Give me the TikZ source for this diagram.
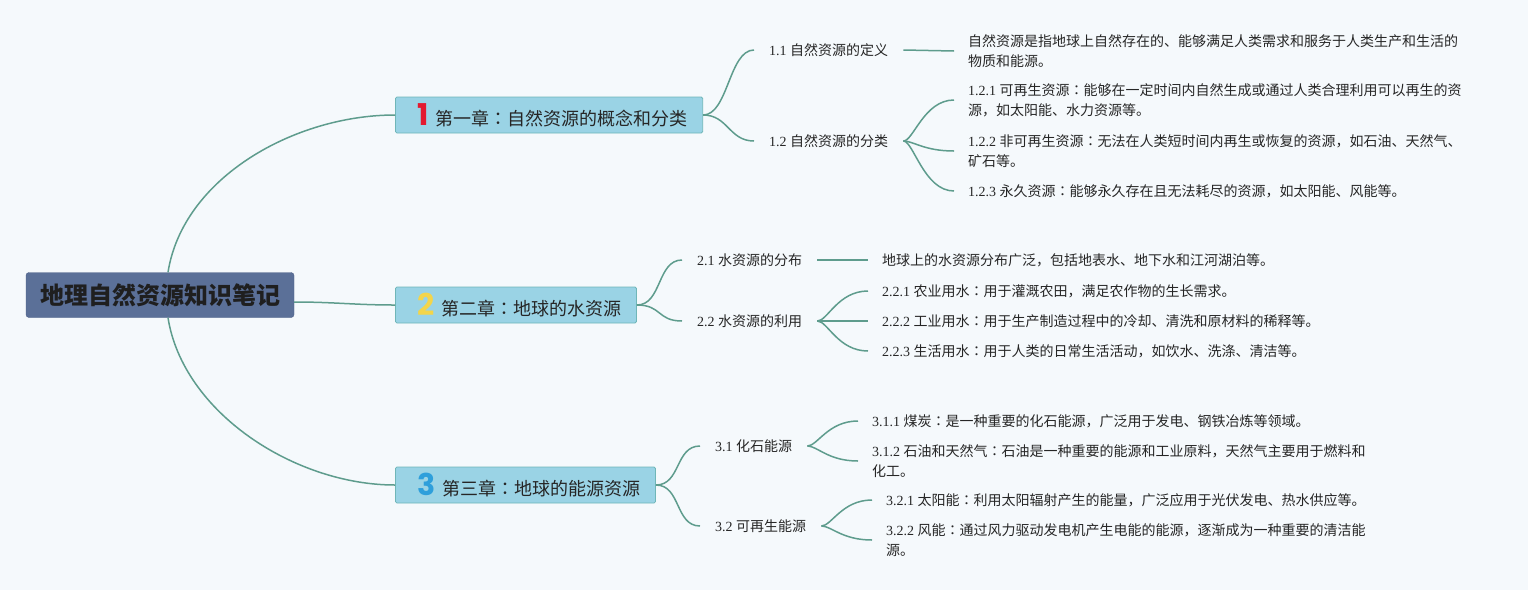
\documentclass[tikz,border=0pt]{standalone}
\usepackage{fontspec}
\usepackage{tikz,xcolor}
\setmainfont{Liberation Serif}
\newfontfamily\cjk{Noto Sans CJK SC}
\newfontfamily\cjkjp{Noto Sans CJK JP}
\newfontfamily\iconfont{Poppins}
\newcommand{\secno}[1]{{\rmfamily #1 }}
\newcommand{\cc}{{\cjkjp ：}}
\newcommand{\chapno}[2]{\hspace{7pt}{\iconfont\bfseries\fontsize{30}{30}\selectfont\color{#1}#2}\hspace{7pt}}
\tikzstyle{root} = [rectangle, rounded corners=3pt, fill=root area, draw=root edge, minimum height=45pt, inner xsep=14pt, font=\cjk\bfseries\fontsize{24}{24}\selectfont, text=black!88]
\tikzset{chapter/.style={rectangle, rounded corners=1.5pt, fill=chapter area, draw=chapter edge, line width=0.8pt, minimum height=36pt, inner xsep=15pt, inner ysep=0pt, font=\cjk\fontsize{18}{18}\selectfont, text=black!85},
    topic/.style={inner xsep=15pt, inner ysep=2pt, font=\cjk\fontsize{14}{20}\selectfont, text=black!85},
    leaf/.style={inner xsep=14pt, inner ysep=2pt, align=left, font=\cjk\fontsize{14}{20}\selectfont, text=black!85},
    link/.style={draw=link color, line width=1.5pt}}

\begin{document}
\begin{tikzpicture}[x=1pt, y=-1pt]
    % Definition of colours
    \definecolor{page bg}{HTML}{F5F9FC}
    \definecolor{root area}{HTML}{5B7098}
    \definecolor{root edge}{HTML}{4E6188}
    \definecolor{chapter area}{HTML}{9AD3E5}
    \definecolor{chapter edge}{HTML}{6FB6B8}
    \definecolor{link color}{HTML}{5E9C8D}
    \definecolor{icon red}{HTML}{E3192F}
    \definecolor{icon yellow}{HTML}{F3D54A}
    \definecolor{icon blue}{HTML}{2E9FDB}
    \fill[page bg] (0,0) rectangle (1528,590);
    \useasboundingbox (0,0) rectangle (1528,590);
    %
    \node[root] (root) at (160,295) {地理自然资源知识笔记};
    \node[chapter, anchor=west] (ch1) at (395,115) {\chapno{icon red}{1}第一章\cc 自然资源的概念和分类};
    \node[chapter, anchor=west] (ch2) at (395,305) {\chapno{icon yellow}{2}第二章\cc 地球的水资源};
    \node[chapter, anchor=west] (ch3) at (395,485) {\chapno{icon blue}{3}第三章\cc 地球的能源资源};
    % chapter 1
    \node[topic, anchor=west] (t11) at (754,50) {\secno{1.1}自然资源的定义};
    \node[topic, anchor=west] (t12) at (754,141) {\secno{1.2}自然资源的分类};
    \node[leaf, anchor=west] (l11) at (954,51) {自然资源是指地球上自然存在的、能够满足人类需求和服务于人类生产和生活的\\物质和能源。};
    \node[leaf, anchor=west] (l121) at (954,100) {\secno{1.2.1}可再生资源\cc 能够在一定时间内自然生成或通过人类合理利用可以再生的资\\源，如太阳能、水力资源等。};
    \node[leaf, anchor=west] (l122) at (954,151) {\secno{1.2.2}非可再生资源\cc 无法在人类短时间内再生或恢复的资源，如石油、天然气、\\矿石等。};
    \node[leaf, anchor=west] (l123) at (954,191) {\secno{1.2.3}永久资源\cc 能够永久存在且无法耗尽的资源，如太阳能、风能等。};
    % chapter 2
    \node[topic, anchor=west] (t21) at (682,260) {\secno{2.1}水资源的分布};
    \node[topic, anchor=west] (t22) at (682,321) {\secno{2.2}水资源的利用};
    \node[leaf, anchor=west] (l21) at (868,260) {地球上的水资源分布广泛，包括地表水、地下水和江河湖泊等。};
    \node[leaf, anchor=west] (l221) at (868,291) {\secno{2.2.1}农业用水\cc 用于灌溉农田，满足农作物的生长需求。};
    \node[leaf, anchor=west] (l222) at (868,321) {\secno{2.2.2}工业用水\cc 用于生产制造过程中的冷却、清洗和原材料的稀释等。};
    \node[leaf, anchor=west] (l223) at (868,351) {\secno{2.2.3}生活用水\cc 用于人类的日常生活活动，如饮水、洗涤、清洁等。};
    % chapter 3
    \node[topic, anchor=west] (t31) at (700,446) {\secno{3.1}化石能源};
    \node[topic, anchor=west] (t32) at (700,526) {\secno{3.2}可再生能源};
    \node[leaf, anchor=west] (l311) at (858,421) {\secno{3.1.1}煤炭\cc 是一种重要的化石能源，广泛用于发电、钢铁冶炼等领域。};
    \node[leaf, anchor=west] (l312) at (858,461) {\secno{3.1.2}石油和天然气\cc 石油是一种重要的能源和工业原料，天然气主要用于燃料和\\化工。};
    \node[leaf, anchor=west] (l321) at (872,500) {\secno{3.2.1}太阳能\cc 利用太阳辐射产生的能量，广泛应用于光伏发电、热水供应等。};
    \node[leaf, anchor=west] (l322) at (872,540) {\secno{3.2.2}风能\cc 通过风力驱动发电机产生电能的能源，逐渐成为一种重要的清洁能\\源。};
    % links
    \draw[link] ([xshift=8pt]root.north) .. controls +(15,-95) and +(-100,0) .. (ch1.west);
    \draw[link] ([yshift=-7pt]root.east) .. controls +(40,0) and +(-40,0) .. (ch2.west);
    \draw[link] ([xshift=8pt]root.south) .. controls +(15,95) and +(-100,0) .. (ch3.west);
    \draw[link] (ch1.east) .. controls +(25,0) and +(-25,0) .. (t11.west);
    \draw[link] (ch1.east) .. controls +(25,0) and +(-25,0) .. (t12.west);
    \draw[link] (ch2.east) .. controls +(25,0) and +(-25,0) .. (t21.west);
    \draw[link] (ch2.east) .. controls +(25,0) and +(-25,0) .. (t22.west);
    \draw[link] (ch3.east) .. controls +(25,0) and +(-25,0) .. (t31.west);
    \draw[link] (ch3.east) .. controls +(25,0) and +(-25,0) .. (t32.west);
    \draw[link] (t11.east) -- (l11.west);
    \draw[link] (t21.east) -- (l21.west);
    \draw[link] (t12.east) .. controls +(10,0) and +(-30,0) .. (l121.west);
    \draw[link] (t12.east) .. controls +(10,0) and +(-30,0) .. (l122.west);
    \draw[link] (t12.east) .. controls +(10,0) and +(-30,0) .. (l123.west);
    \draw[link] (t22.east) .. controls +(10,0) and +(-30,0) .. (l221.west);
    \draw[link] (t22.east) -- (l222.west);
    \draw[link] (t22.east) .. controls +(10,0) and +(-30,0) .. (l223.west);
    \draw[link] (t31.east) .. controls +(10,0) and +(-30,0) .. (l311.west);
    \draw[link] (t31.east) .. controls +(10,0) and +(-30,0) .. (l312.west);
    \draw[link] (t32.east) .. controls +(10,0) and +(-30,0) .. (l321.west);
    \draw[link] (t32.east) .. controls +(10,0) and +(-30,0) .. (l322.west);
\end{tikzpicture}
\end{document}
